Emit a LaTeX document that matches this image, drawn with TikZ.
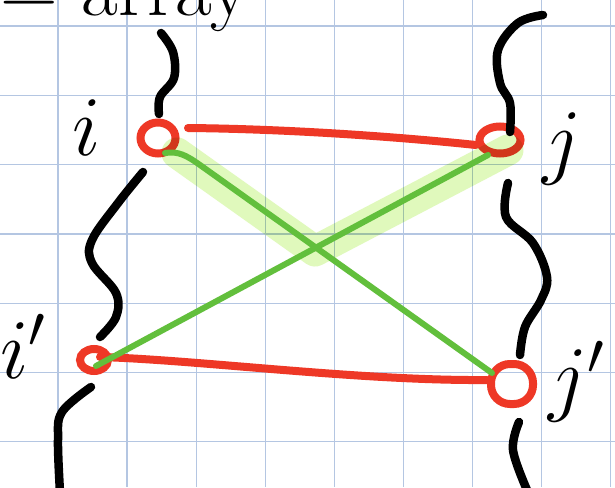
\RequirePackage{fix-cm}
\documentclass[tikz,border=0pt]{standalone}
\usetikzlibrary{calc,shapes.geometric}
\definecolor{gridc}{HTML}{B4C6E2}
\definecolor{redink}{HTML}{EE3826}
\definecolor{greenink}{HTML}{62BF3C}
\definecolor{hlc}{HTML}{E0F9BC}
\begin{document}
\begin{tikzpicture}[x=1pt,y=-1pt,
  ink/.style={line width=8.5pt, line cap=round, line join=round},
  loopnode/.style={draw=redink, line width=8pt, ellipse, inner sep=0pt},
  redline/.style={draw=redink, line width=8pt, line cap=round},
  greenline/.style={draw=greenink, line width=6pt, line cap=round},
  hl/.style={draw=hlc, line width=31pt, line cap=round, line join=round, blend mode=multiply},
  lab/.style={font=\fontsize{85}{90}\selectfont, inner sep=0pt, anchor=base west},
  gridline/.style={draw=gridc, line width=1.3pt}]
\fill[white] (0,0) rectangle (615,487);
\useasboundingbox (0,0) rectangle (615,487);
% grid
\foreach \k in {0,...,8} \draw[gridline] ({58+69.1*\k},0) -- ++(0,487);
\foreach \k in {0,...,6} \draw[gridline] (0,{26+69.3*\k}) -- ++(615,0);
% red loops
\node[loopnode, minimum width=35pt, minimum height=31pt] (i) at (158,138) {};
\node[loopnode, minimum width=41pt, minimum height=27pt] (j) at (500,140) {};
\node[loopnode, minimum width=28pt, minimum height=22pt] (ip) at (94,360) {};
\node[draw=redink, line width=8pt, rectangle, rounded corners=19pt, minimum width=42pt, minimum height=40pt, inner sep=0pt] (jp) at (512,384) {};
% red connectors
\draw[redline] ($(i)+(30,-10)$) .. controls (290,129) and (400,137) .. ($(j)+(-24,5)$);
\draw[redline] ($(ip)+(6,-3)$) .. controls (200,360) and (360,381) .. ($(jp)+(-25,-4)$);
% highlight
\draw[hl] ($(i)+(19,15)$) -- (315,251) -- ($(j)+(8,10)$);
% green connectors
\draw[greenline] ($(i)+(7,15)$) .. controls (178,151) and (186,155) .. (200,165) -- ($(jp)+(-20,-11)$);
\draw[greenline] ($(j)+(-12,15)$) -- ($(ip)+(2,6)$);
% black braces
\draw[ink] plot[smooth, tension=0.6] coordinates {(161,33) (173,52) (174,78) (160,97) (159,114)};
\draw[ink] plot[smooth, tension=0.6] coordinates {(143,172) (118,203) (92,240) (92,263) (116,293) (116,317) (100,337)};
\draw[ink] plot[smooth, tension=0.6] coordinates {(91,387) (62,412) (58,440) (60,492)};
\draw[ink] plot[smooth, tension=0.6] coordinates {(543,15) (518,23) (498,50) (500,83) (510,103) (510,132)};
\draw[ink] plot[smooth, tension=0.6] coordinates {(508,183) (506,217) (533,243) (547,277) (541,300) (525,327) (520,355)};
\draw[ink] plot[smooth, tension=0.6] coordinates {(519,422) (513,450) (527,490)};
% labels
\node[font=\fontsize{80}{80}\selectfont, inner sep=0pt, anchor=base west] (title) at (0,16) {= array};
\node[lab] (li) at (72,155) {$i$};
\node[lab] (lj) at (542,168) {$j$};
\node[lab] (lip) at (0,378) {$i'$};
\node[lab] (ljp) at (548,405) {$j'$};
\end{tikzpicture}
\end{document}
